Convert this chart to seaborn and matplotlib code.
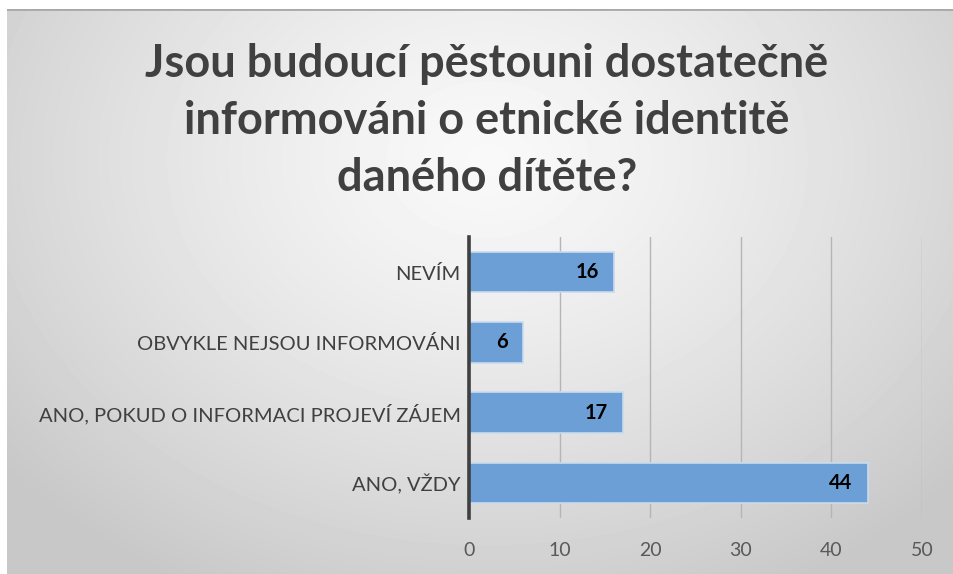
import numpy as np
import pandas as pd
import matplotlib
matplotlib.use("Agg")
import matplotlib.pyplot as plt
import seaborn as sns

# data
categories = ["NEVÍM", "OBVYKLE NEJSOU INFORMOVÁNI",
              "ANO, POKUD O INFORMACI PROJEVÍ ZÁJEM", "ANO, VŽDY"]
counts = [16, 6, 17, 44]
x_ticks = [0, 10, 20, 30, 40, 50]
title = "Jsou budoucí pěstouni dostatečně\ninformováni o etnické identitě\ndaného dítěte?"

sns.set_theme(style="white")
plt.rcParams['font.family'] = ['Lato', 'DejaVu Sans']

W, H = 954, 574
fig = plt.figure(figsize=(W / 100, H / 100), dpi=100)
fig.patch.set_facecolor("white")

# background panel with a soft radial gradient (light centre, grey edges)
bg = fig.add_axes([7 / W, 0, 1 - 7 / W, 1 - 9 / H])
yy, xx = np.mgrid[0:565, 0:947]
d = np.sqrt(((xx - 480) / 620.0) ** 2 + ((yy - 150) / 480.0) ** 2)
d = np.clip(d, 0, 1)
shade = 0.975 - 0.19 * d ** 1.3
bg.imshow(shade, cmap="gray", vmin=0, vmax=1, aspect="auto",
          extent=[0, 1, 0, 1], origin="upper")
bg.axhline(1, color="#a8a8a8", lw=2)
bg.set_axis_off()

df = pd.DataFrame({"kategorie": categories, "pocet": counts})

ax = fig.add_axes([469 / W, 1 - 518 / H, (922 - 469) / W, (518 - 237) / H])
ax.set_facecolor("none")
sns.barplot(data=df, x="pocet", y="kategorie", order=categories,
            color="#6c9fd6", saturation=1, width=0.58,
            edgecolor="#c9dbf0", linewidth=1.2, ax=ax, zorder=3)

for p, v in zip(ax.patches, counts):
    ax.annotate(str(v), (p.get_x() + p.get_width(), p.get_y() + p.get_height() / 2),
                xytext=(-11, 0), textcoords="offset points",
                ha="right", va="center", fontsize=14.5, fontweight="bold",
                color="black", zorder=4)

ax.set_xlim(0, 50)
ax.set_xticks(x_ticks)
ax.xaxis.grid(True, color="#b5b5b5", lw=1)
ax.yaxis.grid(False)
ax.set_axisbelow(True)
for s in ["top", "right", "bottom"]:
    ax.spines[s].set_visible(False)
ax.spines["left"].set_color("#404040")
ax.spines["left"].set_linewidth(2.6)
ax.spines["left"].set_zorder(5)
ax.tick_params(axis="x", length=0, pad=17, labelsize=14, labelcolor="#595959")
ax.tick_params(axis="y", length=0, pad=6, labelsize=14.5, labelcolor="#404040")
ax.set_xlabel("")
ax.set_ylabel("")

fig.text(487 / W, 1 - 121 / H, title, ha="center", va="center",
         fontsize=32.5, fontweight="bold", color="#404040", linespacing=1.45)

fig.savefig("out.png", dpi=100)
